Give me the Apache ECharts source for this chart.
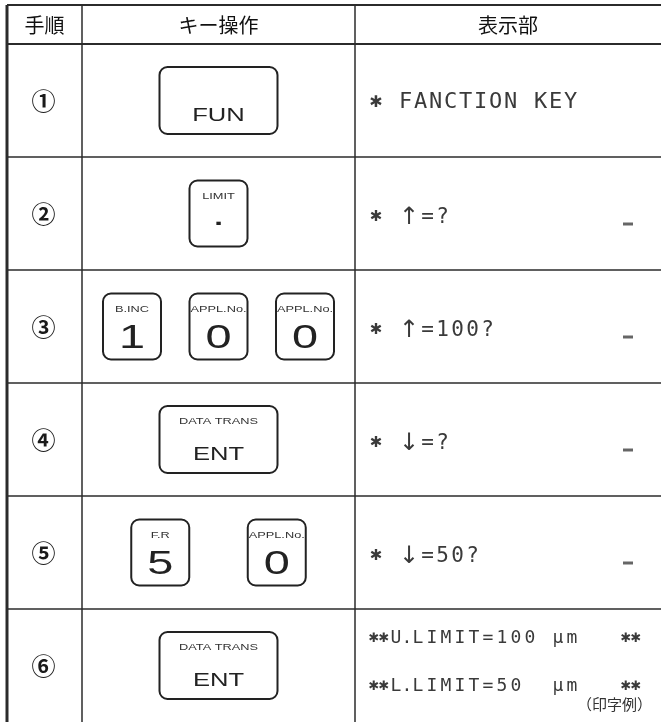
<!DOCTYPE html>
<html><head><meta charset="utf-8">
<script src="https://cdn.jsdelivr.net/npm/echarts@6/dist/echarts.min.js"></script>
<style>html,body{margin:0;padding:0;background:#fff}#c{width:661px;height:722px}</style>
</head><body><div id="c"></div>
<script>
// ---- data ----
const headers = ['手順', 'キー操作', '表示部'];
const steps = ['①', '②', '③', '④', '⑤', '⑥'];
const keyLabels = [[''], ['LIMIT'], ['B.INC', 'APPL.No.', 'APPL.No.'], ['DATA TRANS'], ['F.R', 'APPL.No.'], ['DATA TRANS']];
const keyFaces = [['FUN'], ['.'], ['1', '0', '0'], ['ENT'], ['5', '0'], ['ENT']];
const displayLines = [
  ['* FANCTION KEY'],
  ['* ↑=?'],
  ['* ↑=100?'],
  ['* ↓=?'],
  ['* ↓=50?'],
  ['**U.LIMIT=100 µm   **', '**L.LIMIT=50  µm   **']
];
const cursorShown = [false, true, true, true, true, false];
const footnote = '（印字例）';

// ---- layout / style ----
const LAY = {
  left: 7, top: 5, headerBottom: 44, col1: 82, col2: 355, right: 661,
  lineColor: '#2b2b2b', textColor: '#1a1a1a', dotColor: '#3a3a3a',
  keyWide: [118, 67], keySmall: [58, 66], keyStep: { 2: 116.5, 3: 86.5 }, keyRadius: 8,
  keyScaleX: 1.42, dispX: 369
};
const CJK = '"Noto Sans CJK JP", "Noto Sans", sans-serif';
const SANS = '"Liberation Sans", Arial, sans-serif';
const MONO = '"DejaVu Sans Mono", "DejaVu Sans", monospace';

function charWidth(ch, multi) {
  if (multi) { if (ch === '*') return 10; if (ch === '.') return 8; return 14; }
  if (ch === '*') return 14;
  if (ch === '↑' || ch === '↓') return 22;
  return 15;
}
function glyphStyle(c, fs) {
  if (c === '*') return { text: '✱', font: Math.round(fs * 0.72) + 'px "DejaVu Sans", sans-serif' };
  if (c === '↑' || c === '↓') return { text: c, font: Math.round(fs * 1.15) + 'px "DejaVu Sans", sans-serif' };
  return { text: c, font: fs + 'px ' + MONO };
}

function renderRow(params, api) {
  const i = api.value(1);
  const cy = api.coord([0, i])[1];
  const bh = api.size([0, 1])[1];
  const top = cy - bh / 2, bottom = cy + bh / 2;
  const xl = api.coord([LAY.left, i])[0], x1 = api.coord([LAY.col1, i])[0];
  const x2 = api.coord([LAY.col2, i])[0], xr = api.coord([LAY.right, i])[0];
  const ch = [];
  const ls = { stroke: LAY.lineColor, lineWidth: 1.5 };
  if (i < steps.length - 1) ch.push({ type: 'line', shape: { x1: xl, y1: bottom, x2: xr, y2: bottom }, style: ls });
  ch.push({ type: 'line', shape: { x1: x1, y1: top, x2: x1, y2: bottom }, style: ls });
  ch.push({ type: 'line', shape: { x1: x2, y1: top, x2: x2, y2: bottom }, style: ls });
  ch.push({ type: 'line', shape: { x1: xl, y1: top, x2: xl, y2: bottom }, style: { stroke: LAY.lineColor, lineWidth: 3 } });
  // step number
  ch.push({ type: 'text', x: (xl + x1) / 2 - 1, y: cy, style: { text: steps[i], font: 'bold 24px ' + CJK, fill: LAY.textColor, align: 'center', verticalAlign: 'middle' } });
  // keys
  const faces = keyFaces[i], labels = keyLabels[i], n = faces.length;
  const kc = (x1 + x2) / 2;
  const step = LAY.keyStep[n] || 0;
  faces.forEach((face, k) => {
    const wide = face.length > 1;
    const [kw, kh] = wide ? LAY.keyWide : LAY.keySmall;
    const cx = kc + (k - (n - 1) / 2) * step;
    const ky = cy - kh / 2;
    ch.push({ type: 'rect', shape: { x: cx - kw / 2, y: ky, width: kw, height: kh, r: LAY.keyRadius }, style: { fill: '#fff', stroke: '#222', lineWidth: 2 } });
    if (labels[k]) ch.push({ type: 'text', x: cx, y: ky + 16, scaleX: LAY.keyScaleX, style: { text: labels[k], font: '9px ' + SANS, fill: '#333', align: 'center', verticalAlign: 'middle' } });
    let font, fy;
    if (face === '.') { font = 'bold 22px ' + SANS; fy = ky + 38; }
    else if (wide) { font = '18px ' + SANS; fy = ky + 49; }
    else { font = '33px ' + SANS; fy = ky + 45; }
    ch.push({ type: 'text', x: cx, y: fy, scaleX: LAY.keyScaleX, style: { text: face, font: font, fill: '#222', align: 'center', verticalAlign: 'middle' } });
  });
  // display
  const lines = displayLines[i];
  const multi = lines.length > 1;
  lines.forEach((line, li) => {
    const ty = multi ? cy + (li === 0 ? -27 : 21) : cy + (i === 0 ? 2 : 4);
    const fs = multi ? 18 : (i === 0 ? 22 : 21);
    let x = api.coord([LAY.dispX, i])[0];
    for (const c of line) {
      const w = charWidth(c, multi);
      if (c !== ' ') {
        const gs = glyphStyle(c, fs);
        ch.push({ type: 'text', x: x + w / 2, y: ty, style: { text: gs.text, font: gs.font, fill: LAY.dotColor, align: 'center', verticalAlign: 'middle' } });
      }
      x += w;
    }
  });
  if (multi) ch.push({ type: 'text', x: xr - 9, y: bottom - 18, style: { text: footnote, font: '15px ' + CJK, fill: '#333', align: 'right', verticalAlign: 'middle' } });
  if (cursorShown[i]) ch.push({ type: 'rect', shape: { x: 623, y: cy + 9, width: 10, height: 3 }, style: { fill: '#666' } });
  return { type: 'group', children: ch };
}

const chart = echarts.init(document.getElementById('c'), null, { renderer: 'canvas' });
const hdrCenters = [(LAY.left + LAY.col1) / 2, (LAY.col1 + LAY.col2) / 2, (LAY.col2 + LAY.right) / 2];
const hy = (LAY.top + LAY.headerBottom) / 2;
const graphic = [
  { type: 'line', shape: { x1: LAY.left, y1: LAY.top, x2: LAY.right, y2: LAY.top }, style: { stroke: LAY.lineColor, lineWidth: 2 } },
  { type: 'line', shape: { x1: LAY.left, y1: LAY.headerBottom, x2: LAY.right, y2: LAY.headerBottom }, style: { stroke: LAY.lineColor, lineWidth: 2 } },
  { type: 'line', shape: { x1: LAY.left, y1: LAY.top, x2: LAY.left, y2: LAY.headerBottom }, style: { stroke: LAY.lineColor, lineWidth: 3 } },
  { type: 'line', shape: { x1: LAY.col1, y1: LAY.top, x2: LAY.col1, y2: LAY.headerBottom }, style: { stroke: LAY.lineColor, lineWidth: 1.5 } },
  { type: 'line', shape: { x1: LAY.col2, y1: LAY.top, x2: LAY.col2, y2: LAY.headerBottom }, style: { stroke: LAY.lineColor, lineWidth: 1.5 } }
].concat(headers.map((h, k) => ({ type: 'text', x: hdrCenters[k], y: hy + 1, style: { text: h, font: '20px ' + CJK, fill: '#111', align: 'center', verticalAlign: 'middle' } })));

chart.setOption({
  animation: false,
  grid: { left: 0, right: 0, top: LAY.headerBottom, bottom: 0 },
  xAxis: { type: 'value', min: 0, max: 661, show: false },
  yAxis: { type: 'category', data: steps, inverse: true, show: false },
  graphic: graphic,
  series: [{ type: 'custom', renderItem: renderRow, clip: false, data: steps.map((s, i) => [0, i]), encode: { x: 0, y: 1 }, silent: true }]
});
</script></body></html>
